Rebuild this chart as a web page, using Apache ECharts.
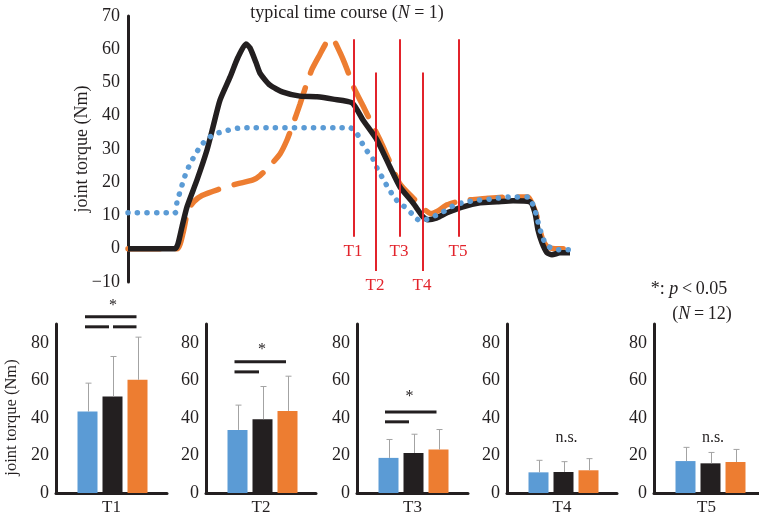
<!DOCTYPE html>
<html><head><meta charset="utf-8">
<script src="https://cdn.jsdelivr.net/npm/echarts@6/dist/echarts.min.js"></script>
<style>html,body{margin:0;padding:0;background:#fff}#c{width:759px;height:520px}</style>
</head><body><div id="c"></div>
<script>
// ---- time course (N = 1), x = sample index, y = joint torque (Nm)
const blackCurve = [[0,0],[47,0],[50,1.5],[54,6.6],[59,12.6],[69,20.7],[79,29.7],[85,36.6],[92,44.7],[102,51.6],[110,57.6],[118,61.6],[122,60.4],[128,56],[132,52.8],[142,49.2],[155,47.1],[172,45.9],[189,45.7],[205,45],[224,43.9],[235,38.7],[249,32.7],[262,24.6],[272,18.6],[285,13.8],[295,9.6],[300,8.7],[309,9.3],[319,10.8],[335,12.6],[352,13.8],[369,14.1],[385,14.4],[402,14.1],[407,10.8],[410,5.7],[414,1.8],[419,-1.2],[424,-1.8],[432,-1.2],[442,-1.2]];
const blueCurve = [[0,10.8],[47,10.8],[49,14.1],[52,17.1],[55,20.1],[58,22.8],[62,25.5],[67,28.2],[72,30.6],[79,33],[87,34.5],[97,35.4],[107,36.1],[115,36.4],[222,36.4],[229,34.6],[234,31.8],[239,29.4],[245,27],[249,24.3],[254,21.6],[259,18.9],[264,16.5],[270,14.1],[278,12.3],[285,10.2],[292,8.4],[300,9],[309,10.2],[317,11.4],[325,12.9],[334,13.8],[344,14.4],[354,14.7],[364,15],[382,15.6],[400,15.6],[405,13.2],[409,9.6],[411,6.6],[414,4.2],[417,1.8],[424,0],[432,-0.3],[442,-0.3]];
const orangeCurve = [[0,0],[49,0],[55,4.7],[60,11.7],[66,14.2],[74,16],[90,17.8],[109,19.5],[125,20.7],[132,22],[142,25],[152,28.5],[159,32.7],[165,37.5],[172,43.5],[178,49],[184,54],[192,58.5],[198,61.8],[204,63.3],[212,59],[219,54],[225,49],[235,43],[244,37.5],[252,32.7],[262,26],[272,19.5],[285,15.3],[297,11.7],[303,10.6],[310,11.4],[319,13.2],[332,14.4],[342,14.7],[360,15.2],[382,15.6],[400,15.6],[405,13],[409,9.6],[412,5.5],[415,2.5],[420,0.5],[430,0],[442,0]];
// analysis time points on the time course: [time, line top, line bottom]
const markerNames = ['T1','T2','T3','T4','T5'];
const markerTimes = [226, 248, 272, 295, 331];
const markerTops = [63, 53, 63, 53, 63];
const markerBottoms = [3.6, -6.7, 3.6, -6.7, 3.6];
const topTicks = [-10, 0, 10, 20, 30, 40, 50, 60, 70];

// ---- group means and SD (N = 12) at T1..T5
const panelNames = ['T1','T2','T3','T4','T5'];
const blueMean = [43.4, 33.6, 18.7, 11.0, 17.0];
const blackMean = [51.4, 39.3, 21.3, 11.2, 15.8];
const orangeMean = [60.3, 43.7, 23.1, 12.1, 16.5];
const blueSD = [15.1, 13.2, 9.8, 6.4, 7.3];
const blackSD = [21.3, 17.4, 10.0, 5.5, 5.8];
const orangeSD = [22.7, 18.5, 10.7, 6.2, 6.7];
const barTicks = [0, 20, 40, 60, 80];
// significance brackets: [panel, from, to, level]
const sigLines = [[0,-0.1,1.96,93.9],[0,-0.1,0.86,88.5],[0,1.02,1.96,88.5],[1,-0.12,1.94,69.9],[1,-0.12,0.86,64.5],[2,-0.14,1.92,43.2],[2,-0.14,0.82,37.9]];
// annotations: [panel, x, level, text]
const sigMarks = [[0,1.02,99.5,'*'],[1,0.98,76.5,'*'],[2,0.84,51,'*'],[3,1.12,29.2,'n.s.'],[4,1.1,29.2,'n.s.']];

const FONT = '"Liberation Serif","DejaVu Serif",serif';
const INK = '#231f20';
const RED = '#e2232b';
const COLORS = ['#5b9bd5', '#231f20', '#ed7d31'];
const panelLeft = [56, 206, 357, 507, 654];
const panelWidth = [111, 110, 111, 110, 105];
const PX = 25; // px per bar slot

const grids = [{left:128, top:16, width:450, height:266}];
const xAxes = [{gridIndex:0, type:'value', min:0, max:450, show:false}];
const yAxes = [{gridIndex:0, type:'value', min:-10, max:70, interval:10,
  axisLine:{show:true, onZero:false, lineStyle:{color:INK, width:3}}, axisTick:{show:false}, splitLine:{show:false},
  axisLabel:{color:INK, fontFamily:FONT, fontSize:18, margin:8,
    formatter:v => topTicks.includes(v) ? String(v).replace('-', '\u2212') : ''},
  name:'joint torque (Nm)', nameLocation:'middle', nameGap:37, nameMoveOverlap:false,
  nameTextStyle:{color:INK, fontFamily:FONT, fontSize:18}}];

const series = [];
series.push({type:'line', xAxisIndex:0, yAxisIndex:0, data:orangeCurve, showSymbol:false, smooth:0.2, z:2,
  lineStyle:{color:COLORS[2], width:5.5, type:[32,16], cap:'round'}});
series.push({type:'line', xAxisIndex:0, yAxisIndex:0, data:blackCurve, showSymbol:false, smooth:0.2, z:3,
  lineStyle:{color:INK, width:5.5, join:'round'}});
series.push({type:'line', xAxisIndex:0, yAxisIndex:0, data:blueCurve, showSymbol:false, smooth:0.2, z:4,
  lineStyle:{color:COLORS[0], width:5.5, type:[0.1,9.4], cap:'round'}});
series.push({type:'custom', xAxisIndex:0, yAxisIndex:0, z:5,
  data: markerTimes.map((t,i) => [t, markerTops[i], markerBottoms[i]]),
  encode:{x:0, y:[1,2]},
  renderItem:(params, api) => {
    const a = api.coord([api.value(0), api.value(1)]);
    const b = api.coord([api.value(0), api.value(2)]);
    const x = Math.round(a[0]);
    return {type:'group', children:[
      {type:'line', shape:{x1:x, y1:a[1], x2:x, y2:b[1]}, style:{stroke:RED, lineWidth:2}},
      {type:'text', x:x-1, y:b[1]+15, style:{text:markerNames[params.dataIndex], fill:RED, font:'17px '+FONT, align:'center', verticalAlign:'middle'}}
    ]};
  }});

for (let i = 0; i < 5; i++) {
  const g = i + 1;
  const min = -31.5 / PX;
  grids.push({left:panelLeft[i], top:324, width:panelWidth[i], height:169});
  xAxes.push({gridIndex:g, type:'value', min:min, max:min + panelWidth[i] / PX,
    axisLine:{show:true, onZero:false, lineStyle:{color:INK, width:3}}, axisTick:{show:false},
    axisLabel:{show:false}, splitLine:{show:false},
    name:panelNames[i], nameLocation:'middle', nameGap:6,
    nameTextStyle:{color:INK, fontFamily:FONT, fontSize:17, verticalAlign:'top'}});
  const ya = {gridIndex:g, type:'value', min:0, max:90, interval:20,
    axisLine:{show:true, onZero:false, lineStyle:{color:INK, width:3}}, axisTick:{show:false}, splitLine:{show:false},
    axisLabel:{color:INK, fontFamily:FONT, fontSize:18, margin:7, showMaxLabel:false,
      formatter:v => barTicks.includes(v) ? String(v) : ''}};
  if (i === 0) {
    ya.name = 'joint torque (Nm)'; ya.nameLocation = 'middle'; ya.nameGap = 36; ya.nameMoveOverlap = false;
    ya.nameTextStyle = {color:INK, fontFamily:FONT, fontSize:16.5, padding:[0,18,0,0]};
  }
  yAxes.push(ya);
  const means = [blueMean[i], blackMean[i], orangeMean[i]];
  const sds = [blueSD[i], blackSD[i], orangeSD[i]];
  series.push({type:'bar', xAxisIndex:g, yAxisIndex:g, barWidth:20, z:2,
    data: means.map((m,k) => ({value:[k, m], itemStyle:{color:COLORS[k]}}))});
  series.push({type:'custom', xAxisIndex:g, yAxisIndex:g, z:3,
    data: means.map((m,k) => [k, m, m + sds[k]]),
    encode:{x:0, y:[1,2]},
    renderItem:(params, api) => {
      const p0 = api.coord([api.value(0), api.value(1)]);
      const p1 = api.coord([api.value(0), api.value(2)]);
      const x = Math.round(p0[0]) + 0.5;
      const st = {stroke:'#a3a3a3', lineWidth:1};
      return {type:'group', children:[
        {type:'line', shape:{x1:x, y1:p0[1], x2:x, y2:p1[1]}, style:st},
        {type:'line', shape:{x1:x-3, y1:p1[1], x2:x+3, y2:p1[1]}, style:st}
      ]};
    }});
  const segs = sigLines.filter(s => s[0] === i).map(s => [s[1], s[2], s[3]]);
  if (segs.length) {
    series.push({type:'custom', xAxisIndex:g, yAxisIndex:g, z:4, data:segs, encode:{x:[0,1], y:2},
      renderItem:(params, api) => {
        const a = api.coord([api.value(0), api.value(2)]);
        const b = api.coord([api.value(1), api.value(2)]);
        return {type:'line', shape:{x1:a[0], y1:a[1], x2:b[0], y2:b[1]}, style:{stroke:INK, lineWidth:3}};
      }});
  }
  const marks = sigMarks.filter(s => s[0] === i);
  series.push({type:'custom', xAxisIndex:g, yAxisIndex:g, z:4, data:marks.map(s => [s[1], s[2]]), encode:{x:0, y:1},
    renderItem:(params, api) => {
      const p = api.coord([api.value(0), api.value(1)]);
      const t = marks[params.dataIndex][3];
      return {type:'text', x:p[0], y:p[1], style:{text:t, fill:INK, font:'16px '+FONT, align:'center', verticalAlign:'middle'}};
    }});
}

const chart = echarts.init(document.getElementById('c'), null, {renderer:'canvas'});
chart.setOption({
  animation:false,
  backgroundColor:'#fff',
  grid:grids, xAxis:xAxes, yAxis:yAxes, series:series,
  graphic:[
    {type:'text', x:347, y:13, style:{
      text:'{a|typical time course (}{i|N}{a| = 1)}', align:'center', verticalAlign:'middle',
      rich:{a:{fontFamily:FONT, fontSize:18, fill:INK}, i:{fontFamily:FONT, fontSize:18, fontStyle:'italic', fill:INK}}}},
    {type:'text', x:689, y:289, style:{
      text:'{a|*: }{i|p}{a|\u2009<\u20090.05}', align:'center', verticalAlign:'middle',
      rich:{a:{fontFamily:FONT, fontSize:18, fill:INK}, i:{fontFamily:FONT, fontSize:18, fontStyle:'italic', fill:INK}}}},
    {type:'text', x:702, y:314, style:{
      text:'{a|(}{i|N}{a|\u2009=\u200912)}', align:'center', verticalAlign:'middle',
      rich:{a:{fontFamily:FONT, fontSize:18, fill:INK}, i:{fontFamily:FONT, fontSize:18, fontStyle:'italic', fill:INK}}}}
  ]
});
</script></body></html>
